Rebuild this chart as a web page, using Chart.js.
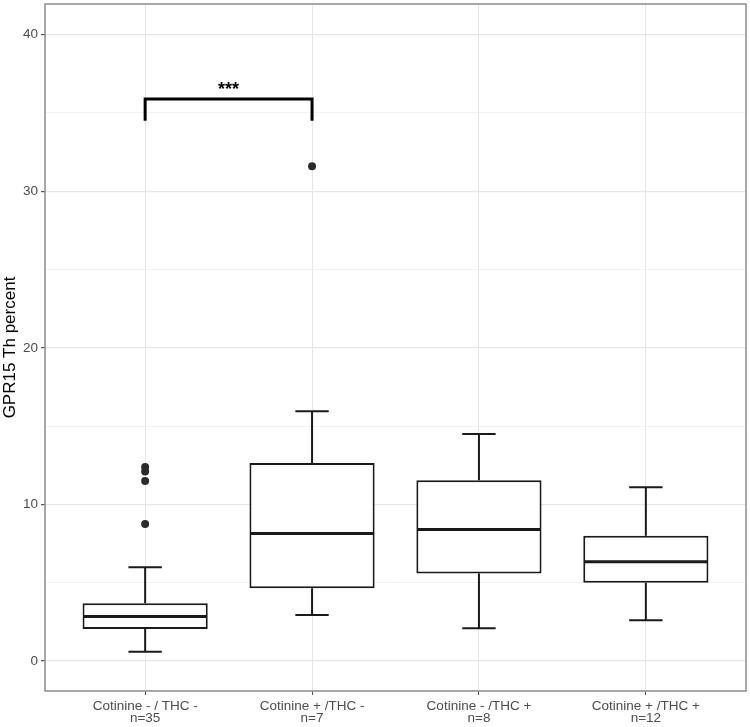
<!DOCTYPE html>
<html lang="en">
<head>
  <meta charset="UTF-8">
  <title>GPR15 Th percent</title>
  <style>
    html, body { margin: 0; background: #fff; }
    #wrap { width: 750px; height: 727px; }
  </style>
</head>
<body>
  <div id="wrap"><canvas id="chart-canvas"></canvas></div>

  <script src="https://cdn.jsdelivr.net/npm/chart.js@4.4.8/dist/chart.umd.min.js"></script>
  <script>
    // groups and their sizes
    const groups = ['Cotinine - / THC -', 'Cotinine + /THC -', 'Cotinine - /THC +', 'Cotinine + /THC +'];
    const counts = ['n=35', 'n=7', 'n=8', 'n=12'];

    // box plot summaries
    const whiskerLow = [0.6, 2.95, 2.1, 2.6];
    const q1 = [2.05, 4.65, 5.6, 5.0];
    const median = [2.85, 8.15, 8.4, 6.35];
    const q3 = [3.7, 12.65, 11.55, 8.0];
    const whiskerHigh = [6.0, 15.95, 14.5, 11.1];

    // outliers (group index, value)
    const outlierGroup = [0, 0, 0, 0, 1];
    const outlierValue = [12.4, 12.1, 11.5, 8.75, 31.6];

    const yTicks = [0, 10, 20, 30, 40];

    // significance bracket
    const sigFrom = 0, sigTo = 1, sigY = 35.9, sigDrop = 34.5, sigLabel = '***';

    const font = '"Liberation Sans", Arial, sans-serif';
    const ink = '#1a1a1a';
    const frame = '#8c8c8c';
    const gridCol = '#e6e6e6';

    // draws whiskers, medians, bracket and the panel frame
    const boxExtras = {
      id: 'boxExtras',
      afterDatasetsDraw(chart) {
        const { ctx, scales: { x, y }, chartArea } = chart;
        const line = (x1, y1, x2, y2) => {
          ctx.beginPath(); ctx.moveTo(x1, y1); ctx.lineTo(x2, y2); ctx.stroke();
        };
        ctx.save();
        ctx.strokeStyle = ink;
        ctx.lineCap = 'butt';
        groups.forEach((g, i) => {
          const cx = x.getPixelForValue(i);
          const cap = x.getPixelForValue(i + 0.1) - cx;
          const half = x.getPixelForValue(i + 0.375) - cx;
          ctx.lineWidth = 2;
          line(cx, y.getPixelForValue(q3[i]), cx, y.getPixelForValue(whiskerHigh[i]));
          line(cx, y.getPixelForValue(q1[i]), cx, y.getPixelForValue(whiskerLow[i]));
          line(cx - cap, y.getPixelForValue(whiskerHigh[i]), cx + cap, y.getPixelForValue(whiskerHigh[i]));
          line(cx - cap, y.getPixelForValue(whiskerLow[i]), cx + cap, y.getPixelForValue(whiskerLow[i]));
          ctx.lineWidth = 3;
          line(cx - half + 1, y.getPixelForValue(median[i]), cx + half - 1, y.getPixelForValue(median[i]));
        });

        // bracket
        const bx1 = x.getPixelForValue(sigFrom), bx2 = x.getPixelForValue(sigTo);
        const by = y.getPixelForValue(sigY), bd = y.getPixelForValue(sigDrop);
        ctx.lineWidth = 3;
        ctx.strokeStyle = '#000';
        ctx.beginPath();
        ctx.moveTo(bx1, bd); ctx.lineTo(bx1, by); ctx.lineTo(bx2, by); ctx.lineTo(bx2, bd);
        ctx.stroke();
        ctx.fillStyle = '#000';
        ctx.font = 'bold 18px ' + font;
        ctx.textAlign = 'center';
        ctx.textBaseline = 'bottom';
        ctx.fillText(sigLabel, (bx1 + bx2) / 2, by);

        // panel frame
        ctx.strokeStyle = frame;
        ctx.lineWidth = 1.5;
        ctx.strokeRect(chartArea.left, chartArea.top, chartArea.right - chartArea.left, chartArea.bottom - chartArea.top);
        ctx.restore();
      }
    };

    const context = document.getElementById('chart-canvas').getContext('2d');
    const chart = new Chart(context, {
      type: 'bar',
      data: {
        datasets: [
          {
            type: 'bar',
            data: groups.map((g, i) => ({ x: i, y: [q1[i], q3[i]] })),
            backgroundColor: '#fff',
            borderColor: ink,
            borderWidth: 2,
            borderSkipped: false,
            categoryPercentage: 1,
            barPercentage: 0.75,
            grouped: false
          },
          {
            type: 'scatter',
            data: outlierValue.map((v, k) => ({ x: outlierGroup[k], y: v })),
            pointRadius: 4,
            pointBackgroundColor: '#2b2b2b',
            pointBorderWidth: 0
          }
        ]
      },
      options: {
        responsive: true,
        maintainAspectRatio: false,
        animation: false,
        layout: { padding: { left: 0, top: 3, right: 4, bottom: 0 } },
        plugins: { legend: { display: false }, tooltip: { enabled: false } },
        scales: {
          x: {
            type: 'linear',
            min: -0.6,
            max: 3.6,
            offset: false,
            border: { display: false },
            grid: { offset: false, color: gridCol, lineWidth: 1, tickLength: 4, tickColor: '#555' },
            ticks: {
              stepSize: 1,
              includeBounds: false,
              autoSkip: false,
              maxRotation: 0,
              padding: 5,
              color: '#4d4d4d',
              font: { family: font, size: 13.5, lineHeight: 0.9 },
              callback: v => Number.isInteger(v) && groups[v] ? [groups[v], counts[v]] : ''
            },
            afterFit: s => { s.height = 36; s.paddingLeft = 0; s.paddingRight = 0; }
          },
          y: {
            type: 'linear',
            min: -1.91,
            max: 41.96,
            border: { display: false },
            grid: {
              color: c => yTicks.includes(c.tick.value) ? gridCol : '#efefef',
              lineWidth: c => yTicks.includes(c.tick.value) ? 1.2 : 0.8,
              tickLength: 4,
              tickColor: c => yTicks.includes(c.tick.value) ? '#555' : 'rgba(0,0,0,0)'
            },
            ticks: {
              stepSize: 5,
              includeBounds: false,
              padding: 3,
              color: '#4d4d4d',
              font: { family: font, size: 13.5 },
              callback: v => yTicks.includes(v) ? v : ''
            },
            title: {
              display: true,
              text: 'GPR15 Th percent',
              color: '#000',
              padding: { top: 2, bottom: 0 },
              font: { family: font, size: 17, lineHeight: 1 }
            },
            afterFit: s => { s.width = 45; s.paddingTop = 0; s.paddingBottom = 0; }
          }
        }
      },
      plugins: [boxExtras]
    });
  </script>
</body>
</html>
